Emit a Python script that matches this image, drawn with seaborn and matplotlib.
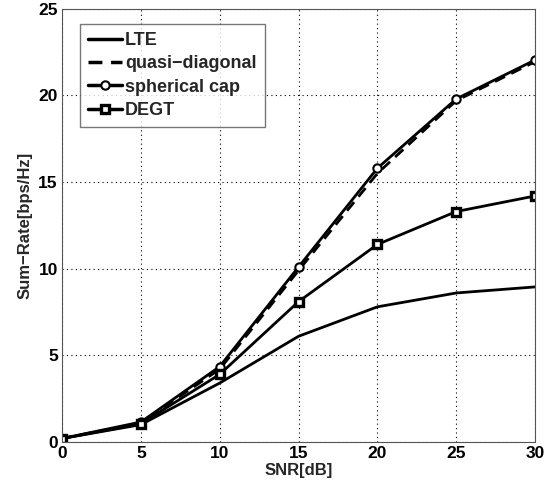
import numpy as np
import pandas as pd
import matplotlib
matplotlib.use("Agg")
import matplotlib.pyplot as plt
import seaborn as sns

# data
snr = [0, 5, 10, 15, 20, 25, 30]
lte = [0.2, 1.0, 3.4, 6.1, 7.8, 8.6, 8.95]
quasi_diag = [0.2, 1.1, 4.2, 9.9, 15.5, 19.7, 21.95]
spherical_cap = [0.2, 1.15, 4.35, 10.1, 15.8, 19.8, 22.05]
degt = [0.2, 1.05, 3.9, 8.1, 11.4, 13.3, 14.2]

sns.set_style("white")
plt.rcParams["font.family"] = ["Liberation Sans", "DejaVu Sans"]
plt.rcParams["font.weight"] = "bold"

fig = plt.figure(figsize=(5.58, 4.9), dpi=100)
ax = fig.add_axes([0.111, 0.098, 0.848, 0.884])

lw = 2.0
sns.lineplot(x=snr, y=lte, ax=ax, color="black", lw=lw, label="LTE")
sns.lineplot(x=snr, y=quasi_diag, ax=ax, color="black", lw=lw, label="quasi\u2212diagonal",
             dashes=False, linestyle=(0, (4, 2.5)))
sns.lineplot(x=snr, y=spherical_cap, ax=ax, color="black", lw=lw, label="spherical cap",
             marker="o", markersize=6, markerfacecolor="white", markeredgecolor="black",
             markeredgewidth=1.5)
sns.lineplot(x=snr, y=degt, ax=ax, color="black", lw=lw, label="DEGT",
             marker="s", markersize=6, markerfacecolor="white", markeredgecolor="black",
             markeredgewidth=2.4)

ax.set_xlim(0, 30)
ax.set_ylim(0, 25)
ax.set_xticks([0, 5, 10, 15, 20, 25, 30])
ax.set_yticks([0, 5, 10, 15, 20, 25])
ax.grid(True, color="black", linestyle=(0, (1, 3)), linewidth=0.8)
ax.tick_params(direction="in", length=4, labelsize=12.5, colors="black", pad=3)
for lab in ax.get_xticklabels() + ax.get_yticklabels():
    lab.set_fontweight("bold")
for sp in ax.spines.values():
    sp.set_color("#555555")
    sp.set_linewidth(0.8)

ax.set_xlabel("SNR[dB]", fontsize=12, fontweight="bold", labelpad=1)
ax.set_ylabel("Sum\u2212Rate[bps/Hz]", fontsize=12, fontweight="bold", labelpad=4)

leg = ax.legend(loc="upper left", bbox_to_anchor=(0.038, 0.965), fontsize=13,
                frameon=True, fancybox=False, handlelength=1.9, handletextpad=0.15,
                labelspacing=0.35, borderpad=0.45, borderaxespad=0)
leg.get_frame().set_edgecolor("#555555")
leg.get_frame().set_linewidth(1.0)
for t in leg.get_texts():
    t.set_fontweight("bold")
for h in leg.get_lines():
    h.set_linewidth(2.5)

fig.savefig("out.png", dpi=100)
